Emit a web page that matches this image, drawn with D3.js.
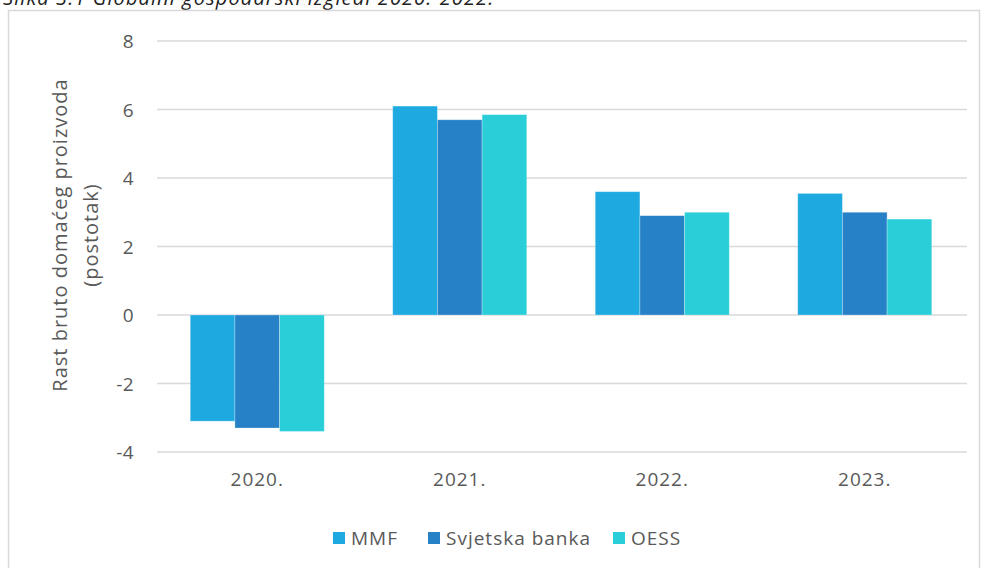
<!DOCTYPE html>
<html lang="hr">
<head>
<meta charset="utf-8">
<title>Globalni gospodarski izgledi</title>
<script src="https://d3js.org/d3.v7.min.js"></script>
<style>
  body { margin: 0; background: #fff; }
  svg text { font-family: "Open Sans", "Noto Sans", sans-serif; fill: #595959; }
</style>
</head>
<body>
<script>
  const years = ['2020.', '2021.', '2022.', '2023.']
  const seriesNames = ['MMF', 'Svjetska banka', 'OESS']
  const mmf = [-3.1, 6.1, 3.6, 3.55]
  const svjetskaBanka = [-3.3, 5.7, 2.9, 3.0]
  const oess = [-3.4, 5.85, 3.0, 2.8]
  const yTicks = [-4, -2, 0, 2, 4, 6, 8]
  const colors = ['#1eaae1', '#2681c6', '#29ced8']

  const values = [mmf, svjetskaBanka, oess]
  const rows = years.map((y, i) => ({ year: y, vals: seriesNames.map((s, j) => ({ key: s, v: values[j][i] })) }))

  const W = 984, H = 568
  const plot = { left: 157, right: 967, top: 41, bottom: 452 }

  const svg = d3.select('body').append('svg').attr('width', W).attr('height', H)

  // caption, cut off at the top like in the original
  svg.append('text')
    .attr('x', 3).attr('y', 5)
    .style('font-style', 'italic').style('font-size', '20px')
    .style('letter-spacing', '1.1px').style('fill', '#222')
    .text('Slika 3.1 Globalni gospodarski izgledi 2020.-2022.')

  // frame
  svg.append('rect')
    .attr('x', 8.5).attr('y', 10.5).attr('width', 971).attr('height', 570)
    .attr('fill', 'none').attr('stroke', '#d9d9d9').attr('stroke-width', 1.5)

  const y = d3.scaleLinear().domain([-4, 8]).range([plot.bottom, plot.top])
  const x0 = d3.scaleBand().domain(years).range([plot.left - 1, plot.right - 1]).paddingInner(0.338).paddingOuter(0.169)
  const x1 = d3.scaleBand().domain(seriesNames).range([0, x0.bandwidth()])
  const color = d3.scaleOrdinal().domain(seriesNames).range(colors)

  // gridlines
  svg.append('g').selectAll('line').data(yTicks).enter().append('line')
    .attr('x1', plot.left).attr('x2', plot.right)
    .attr('y1', d => y(d)).attr('y2', d => y(d))
    .attr('stroke', '#d9d9d9').attr('stroke-width', 1.5)

  // y tick labels
  svg.append('g').selectAll('text').data(yTicks).enter().append('text')
    .attr('x', 134).attr('y', d => y(d) + 7)
    .attr('text-anchor', 'end').style('font-size', '19px').style('letter-spacing', '0.4px')
    .text(d => d)

  // bars
  svg.append('g').selectAll('g').data(rows).enter().append('g')
    .attr('transform', d => `translate(${x0(d.year)},0)`)
    .selectAll('rect').data(d => d.vals).enter().append('rect')
    .attr('x', d => x1(d.key))
    .attr('width', x1.bandwidth())
    .attr('y', d => y(Math.max(0, d.v)))
    .attr('height', d => Math.abs(y(d.v) - y(0)))
    .attr('fill', d => color(d.key))
    .attr('stroke', 'rgba(255,255,255,0.35)').attr('stroke-width', 0.8)

  // category labels
  svg.append('g').selectAll('text').data(years).enter().append('text')
    .attr('x', d => x0(d) + x0.bandwidth() / 2).attr('y', 486)
    .attr('text-anchor', 'middle').style('font-size', '19px').style('letter-spacing', '1px')
    .text(d => d)

  // y axis title
  const yt = svg.append('text')
    .attr('transform', 'translate(67,235) rotate(-90)')
    .attr('text-anchor', 'middle').style('font-size', '20px').style('letter-spacing', '1px')
  yt.append('tspan').attr('x', 0).attr('dy', 0).text('Rast bruto domaćeg proizvoda')
  yt.append('tspan').attr('x', 0).attr('dy', '1.55em').text('(postotak)')

  // legend
  const legendX = [333, 428, 613]
  const lg = svg.append('g').selectAll('g').data(seriesNames).enter().append('g')
    .attr('transform', (d, i) => `translate(${legendX[i]},532)`)
  lg.append('rect').attr('width', 12).attr('height', 12).attr('fill', d => color(d))
  lg.append('text').attr('x', 18).attr('y', 13)
    .style('font-size', '19px').style('letter-spacing', '1px').text(d => d)
</script>
</body>
</html>
